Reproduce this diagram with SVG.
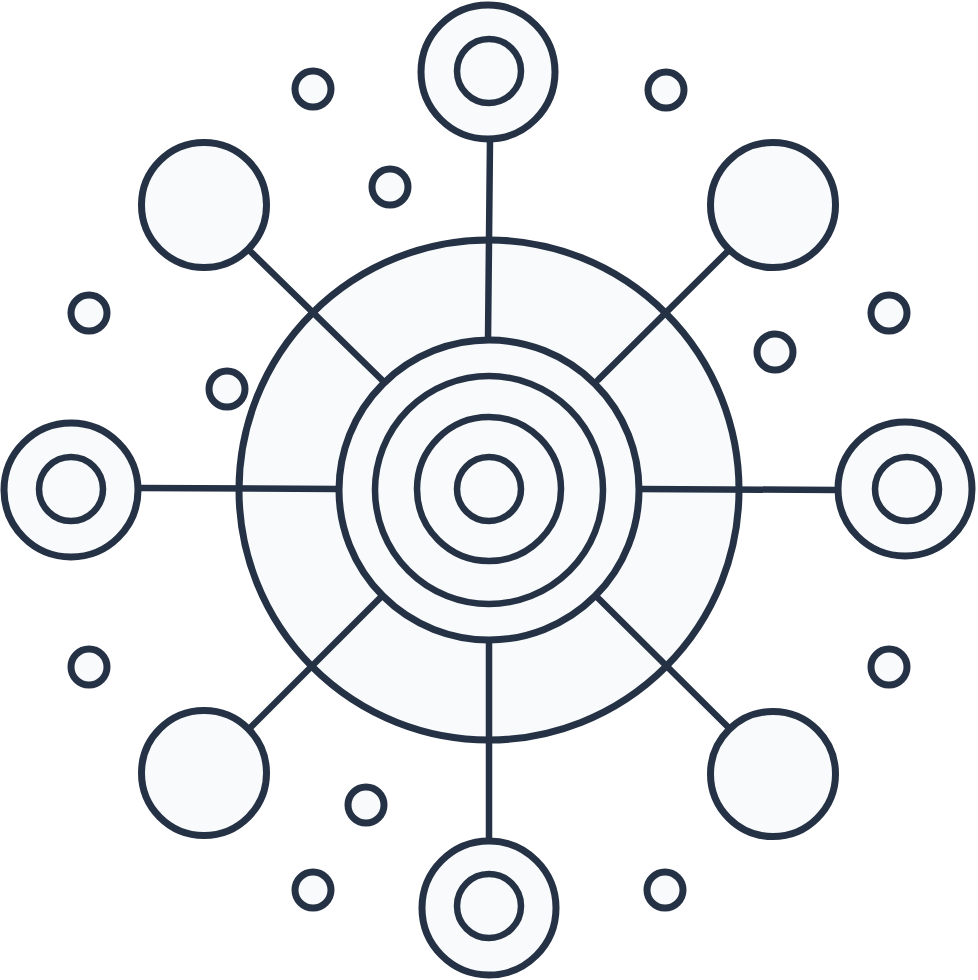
<svg xmlns="http://www.w3.org/2000/svg" width="978" height="980" viewBox="0 0 978 980">
<defs>
<style>
.s{fill:#f8fafb;stroke:#253245;stroke-width:7}
.t{fill:none;stroke:#253245;stroke-width:6.5}
.ln{stroke:#253245;stroke-width:6.5;stroke-linecap:round;fill:none}
.d{fill:#f8fafb;stroke:#253245;stroke-width:7}
</style>
</defs>
<rect width="978" height="980" fill="#ffffff"/>
<g id="hub-outer">
<circle class="s" cx="489" cy="490" r="250"/>
</g>
<g id="connectors">
<line class="ln" x1="490" y1="140" x2="488" y2="340"/>
<line class="ln" x1="489" y1="640" x2="489" y2="838"/>
<line class="ln" x1="140" y1="488" x2="338" y2="489"/>
<line class="ln" x1="640" y1="489" x2="836" y2="490"/>
<line class="ln" x1="249" y1="250" x2="382" y2="380"/>
<line class="ln" x1="729" y1="250" x2="598" y2="380"/>
<line class="ln" x1="250" y1="728" x2="380" y2="598"/>
<line class="ln" x1="598" y1="598" x2="729" y2="728"/>
</g>
<g id="hub-core">
<circle class="s" cx="489" cy="490" r="150"/>
<circle class="t" cx="489" cy="490" r="114"/>
<circle class="t" cx="489" cy="489" r="72"/>
<circle class="t" cx="489" cy="489" r="32"/>
</g>
<g id="node-top">
<circle class="s" cx="488" cy="72" r="67"/>
<circle class="t" cx="489" cy="71" r="32"/>
</g>
<g id="node-bottom">
<circle class="s" cx="489" cy="908" r="67"/>
<circle class="t" cx="489" cy="906" r="32"/>
</g>
<g id="node-left">
<circle class="s" cx="71" cy="490" r="67"/>
<circle class="t" cx="71" cy="489" r="32"/>
</g>
<g id="node-right">
<circle class="s" cx="905" cy="489" r="67"/>
<circle class="t" cx="907" cy="489" r="32"/>
</g>
<g id="node-top-left">
<circle class="s" cx="204" cy="205" r="62.5"/>
</g>
<g id="node-top-right">
<circle class="s" cx="773" cy="205" r="62.5"/>
</g>
<g id="node-bottom-left">
<circle class="s" cx="204" cy="773" r="62.5"/>
</g>
<g id="node-bottom-right">
<circle class="s" cx="773" cy="774" r="62.5"/>
</g>
<g id="dots">
<circle class="d" cx="313" cy="89" r="18"/>
<circle class="d" cx="666" cy="90" r="18"/>
<circle class="d" cx="390" cy="187" r="18"/>
<circle class="d" cx="89" cy="313" r="18"/>
<circle class="d" cx="889" cy="313" r="18"/>
<circle class="d" cx="775" cy="352" r="18"/>
<circle class="d" cx="227" cy="389" r="18"/>
<circle class="d" cx="89" cy="667" r="18"/>
<circle class="d" cx="889" cy="667" r="18"/>
<circle class="d" cx="366" cy="805" r="18"/>
<circle class="d" cx="313" cy="890" r="18"/>
<circle class="d" cx="665" cy="890" r="18"/>
</g>
</svg>
